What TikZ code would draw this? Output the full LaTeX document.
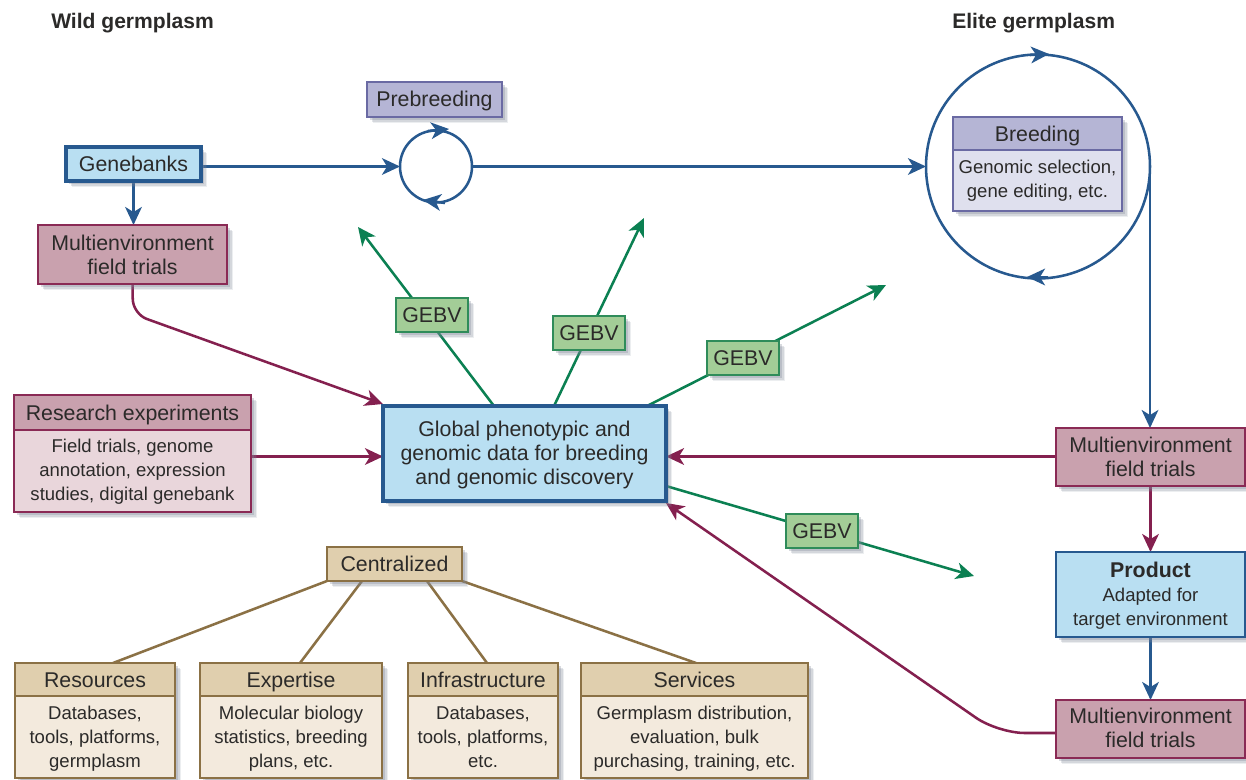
\documentclass[tikz,border=0pt]{standalone}
\usepackage{fontspec}
\setmainfont{Liberation Sans}
\usetikzlibrary{arrows.meta,shadows,backgrounds,calc}
\definecolor{ink}{HTML}{2B2A29}
\definecolor{bblue}{HTML}{27598F}
\definecolor{fblue}{HTML}{B9DFF2}
\definecolor{bpur}{HTML}{6A6AA3}
\definecolor{fpur}{HTML}{B5B5D5}
\definecolor{fpurl}{HTML}{DFE0EE}
\definecolor{bmar}{HTML}{8A2A55}
\definecolor{fmar}{HTML}{C9A1AE}
\definecolor{fmarl}{HTML}{E9D6DB}
\definecolor{btan}{HTML}{8B7145}
\definecolor{ftan}{HTML}{E0CFAE}
\definecolor{ftanl}{HTML}{F3EADD}
\definecolor{bgrn}{HTML}{2F8C5A}
\definecolor{fgrn}{HTML}{A3CD97}
\definecolor{lgrn}{HTML}{0B8052}
\definecolor{lmar}{HTML}{84204F}
\definecolor{shadeclr}{HTML}{7F8798}
\newlength{\xtop}
\tikzset{
  x=0.75pt,y=-0.75pt,
  xt/.style={execute at begin node={\setlength{\xtop}{#1}}},
  shade box/.style={
    drop shadow={shadow xshift=4.6pt,shadow yshift=-4.6pt,fill=shadeclr,opacity=.14},
    drop shadow={shadow xshift=3.6pt,shadow yshift=-3.6pt,fill=shadeclr,opacity=.22},
    drop shadow={shadow xshift=2.6pt,shadow yshift=-2.6pt,fill=shadeclr,opacity=.3}},
  base/.style={rectangle,inner sep=0pt,outer sep=0pt,align=center,text=ink,shade box,xt=4.5pt,font=\fontsize{16}{18.2}\selectfont},
  small/.style={font=\fontsize{13.9}{18}\selectfont},
  bluebox/.style={base,draw=bblue,line width=2.4pt,fill=fblue},
  purbox/.style={base,draw=bpur,line width=1.1pt,fill=fpur},
  purbody/.style={base,small,xt=0pt,draw=bpur,line width=1.1pt,fill=fpurl},
  marbox/.style={base,draw=bmar,line width=1.1pt,fill=fmar},
  marbody/.style={base,small,xt=1.5pt,draw=bmar,line width=1.1pt,fill=fmarl},
  tanbox/.style={base,draw=btan,line width=1.1pt,fill=ftan},
  tanbody/.style={base,small,xt=3pt,draw=btan,line width=1.1pt,fill=ftanl},
  grnbox/.style={base,draw=bgrn,line width=1.1pt,fill=fgrn},
  heading/.style={inner sep=0pt,text=ink,font=\fontsize{15.8}{18}\selectfont\bfseries},
  tip/.style={-{Stealth[length=13.5pt,width=12.5pt,inset=3.8pt]}},
  blueln/.style={draw=bblue,line width=1.9pt,tip},
  marln/.style={draw=lmar,line width=1.9pt,tip},
  grnln/.style={draw=lgrn,line width=1.9pt,tip},
  tanln/.style={draw=btan,line width=1.9pt},
  ring/.style={circle,draw=bblue,line width=1.9pt,inner sep=0pt,outer sep=0pt},
}
\newcommand{\bt}[7]{\node[#1,minimum width={(#5-#3)*0.75pt},minimum height={(#6-#4)*0.75pt}] (#2) at ({(#3+#5)/2},{(#4+#6)/2}) {\vrule width 0pt height\dimexpr\ht\strutbox+\xtop\relax depth 0pt #7\strut};}
\begin{document}
\begin{tikzpicture}
\useasboundingbox (0,0) rectangle (1246,780);
\begin{pgfonlayer}{background}
\fill[white] (0,0) rectangle (1246,780);
\end{pgfonlayer}

\node[heading,anchor=base west] (wild) at (51,29) {Wild germplasm};
\node[heading,anchor=base west] (elite) at (952,29) {Elite germplasm};

\node[ring,minimum size={72*0.75pt}] (small) at (436,166.5) {};
\node[ring,minimum size={224*0.75pt}] (big) at (1038,166.5) {};

\bt{bluebox}{genebanks}{66}{147}{201}{181}{Genebanks}
\bt{purbox,xt=3pt}{prebreeding}{367}{82}{502}{117}{Prebreeding}
\bt{purbox}{breeding}{953}{117}{1122}{150}{Breeding}
\bt{purbody}{breedbody}{953}{150}{1122}{211}{Genomic selection,\\gene editing, etc.}
\bt{marbox}{meA}{38}{225}{227}{284}{Multienvironment\\field trials}
\bt{bluebox,xt=3pt}{central}{383}{406}{666}{501}{Global phenotypic and\\genomic data for breeding\\and genomic discovery}
\bt{marbox}{research}{14}{395}{251}{430}{Research experiments}
\bt{marbody}{resbody}{14}{430}{251}{512}{Field trials, genome\\annotation, expression\\studies, digital genebank}
\bt{marbox}{meB}{1056}{428}{1245}{486}{Multienvironment\\field trials}
\bt{bluebox,line width=1.1pt,small,xt=3pt}{product}{1056}{552}{1245}{637}{{\fontsize{16}{18}\selectfont\bfseries Product}\\Adapted for\\target environment}
\bt{marbox,xt=3pt}{meC}{1056}{700}{1245}{758}{Multienvironment\\field trials}
\bt{tanbox}{centralized}{327}{547}{462}{581}{Centralized}

\bt{tanbox}{resh}{15}{663}{175}{696}{Resources}
\bt{tanbody}{resb}{15}{696}{175}{778}{Databases,\\tools, platforms,\\germplasm}
\bt{tanbox}{exph}{200}{663}{382}{696}{Expertise}
\bt{tanbody}{expb}{200}{696}{382}{778}{Molecular biology\\statistics, breeding\\plans, etc.}
\bt{tanbox}{infh}{408}{663}{558}{696}{Infrastructure}
\bt{tanbody}{infb}{408}{696}{558}{778}{Databases,\\tools, platforms,\\etc.}
\bt{tanbox}{serh}{581}{663}{808}{696}{Services}
\bt{tanbody}{serb}{581}{696}{808}{778}{Germplasm distribution,\\evaluation, bulk\\purchasing, training, etc.}

\bt{grnbox}{gA}{396}{298}{468}{332}{GEBV}
\bt{grnbox}{gB}{553}{316}{625}{350}{GEBV}
\bt{grnbox}{gC}{707}{341}{779}{375}{GEBV}
\bt{grnbox}{gD}{786}{514}{858}{548}{GEBV}

\coordinate (endA) at (358,227);
\coordinate (endB) at (644,218);
\coordinate (endC) at (886,285);
\coordinate (endD) at (974,576);
\coordinate (smallTopS) at (428,131);
\coordinate (smallTopE) at (449,129);
\coordinate (smallBotS) at (445,203);
\coordinate (smallBotE) at (423,200);
\coordinate (bigTopS) at (1030,55);
\coordinate (bigTopE) at (1049,54);
\coordinate (bigBotS) at (1048,277);
\coordinate (bigBotE) at (1027,277);

\begin{pgfonlayer}{background}
\draw[blueln] (genebanks.east |- small.west) -- (small.west);
\draw[blueln] (small.east) -- (big.west);
\draw[blueln] (genebanks.south) -- (genebanks.south |- meA.north);
\draw[blueln] (big.east) -- (big.east |- meB.north);
\draw[blueln] (product.south) -- (meC.north);
\draw[blueln] (smallTopS) -- (smallTopE);
\draw[blueln] (smallBotS) -- (smallBotE);
\draw[blueln] (bigTopS) -- (bigTopE);
\draw[blueln] (bigBotS) -- (bigBotE);

\draw[marln,rounded corners=11pt] (meA.south) -- (133,314) -- ($(central.north west)+(0,-2)$);
\draw[marln] ($(resbody.east |- central.west)+(0,3)$) -- ($(central.west)+(0,3)$);
\draw[marln] ($(meB.west |- central.east)+(0,3)$) -- ($(central.east)+(0,3)$);
\draw[marln] (meB.south) -- (product.north);
\draw[marln,rounded corners=20pt] ($(meC.west)+(0,4)$) -- (998,733) -- ($(central.south east)+(0,2)$);

\draw[grnln] ($(central.north west)+(111,0)$) -- (endA);
\draw[grnln] ($(central.north west)+(171,0)$) -- (endB);
\draw[grnln] ($(central.north west)+(264,0)$) -- (endC);
\draw[grnln] ($(central.south east)+(0,-15)$) -- (endD);

\draw[tanln] (centralized.south west) -- ($(resh.north west)+(98,0)$);
\draw[tanln] ($(centralized.south west)+(35,0)$) -- ($(exph.north west)+(100,0)$);
\draw[tanln] ($(centralized.south west)+(100,0)$) -- ($(infh.north west)+(79,0)$);
\draw[tanln] (centralized.south east) -- ($(serh.north west)+(115,0)$);
\end{pgfonlayer}
\end{tikzpicture}
\end{document}
